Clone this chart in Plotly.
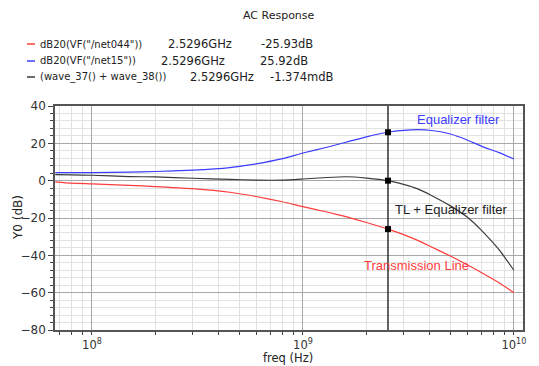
import plotly.graph_objects as go
import math

freq = [6.7e7, 8e7, 1e8, 1.5e8, 2e8, 3e8, 4.5e8, 6e8, 8e8, 1e9, 1.3e9, 1.6e9, 2e9,
        2.5296e9, 3e9, 3.5e9, 4e9, 5e9, 6e9, 7e9, 8.5e9, 1e10]
tl_db = [-0.6, -1.3, -1.7, -2.5, -3.2, -4.3, -6.2, -8.5, -11.3, -13.9, -16.8, -19.3, -22.4,
         -25.93, -28.9, -32.0, -35.1, -40.4, -45.0, -49.2, -54.7, -60.0]
eq_db = [4.3, 4.3, 4.3, 4.6, 4.9, 5.6, 7.0, 9.0, 11.8, 14.8, 17.9, 20.6, 23.5,
         25.92, 26.9, 27.3, 27.0, 25.0, 21.8, 18.5, 15.0, 11.6]
sum_db = [3.2, 3.1, 2.9, 2.2, 2.0, 1.3, 0.7, 0.3, 0.3, 0.9, 1.7, 2.1, 1.4,
          -0.001374, -2.0, -4.4, -7.5, -13.5, -19.5, -26.5, -37.0, -48.0]

cursor_f = 2.5296e9
cursor_vals = [-25.93, 25.92, -0.001374]

legend_names = ['dB20(VF("/net044"))', 'dB20(VF("/net15"))', '(wave_37() + wave_38())']
legend_freq = ['2.5296GHz', '2.5296GHz', '2.5296GHz']
legend_vals = ['-25.93dB', '25.92dB', '-1.374mdB']

RED = '#ff3c3c'
BLUE = '#3c3cff'
DARK = '#3a3a3a'

fig = go.Figure()
fig.add_trace(go.Scatter(x=freq, y=tl_db, mode='lines', line=dict(color=RED, width=1.2, shape='spline', smoothing=0.5)))
fig.add_trace(go.Scatter(x=freq, y=eq_db, mode='lines', line=dict(color=BLUE, width=1.2, shape='spline', smoothing=0.5)))
fig.add_trace(go.Scatter(x=freq, y=sum_db, mode='lines', line=dict(color=DARK, width=1.2, shape='spline', smoothing=0.5)))
fig.add_trace(go.Scatter(x=[cursor_f, cursor_f], y=[-80, 40], mode='lines', line=dict(color='#111111', width=1.3)))
fig.add_trace(go.Scatter(x=[cursor_f] * 3, y=cursor_vals, mode='markers',
                         marker=dict(symbol='square', size=6, color='#000000')))

minor_x = [k * 10 ** n for n in (7, 8, 9) for k in range(2, 10) if 6.6e7 < k * 10 ** n < 1.1e10]

L, R, T, B = 55, 16, 106, 36
W, H = 539, 366
pw, ph = W - L - R, H - T - B

def px(x):
    return (x - L) / pw

def py(y):
    return (H - B - y) / ph

font = 'DejaVu Sans'
fig.update_layout(
    width=W, height=H, margin=dict(l=L, r=R, t=T, b=B),
    paper_bgcolor='white', plot_bgcolor='white', showlegend=False,
    xaxis=dict(type='log', range=[math.log10(6.68e7), 10.043],
               tickmode='array', tickvals=[1e8, 1e9, 1e10],
               ticktext=['10<sup>8</sup>', '10<sup>9</sup>', '10<sup>10</sup>'],
               showgrid=True, gridcolor='#a8a8a8', gridwidth=1,
               ticks='outside', ticklen=3, tickcolor='#444',
               showline=True, mirror=True, linecolor='#555', linewidth=1.5,
               tickfont=dict(family=font, size=11.5, color='#333'),
               minor=dict(tickmode='array', tickvals=minor_x, showgrid=True, gridcolor='#e2e2e2',
                          ticks='outside', ticklen=3, tickcolor='#444'),
               zeroline=False),
    yaxis=dict(range=[-80, 40], tickmode='linear', dtick=20, tick0=0,
               showgrid=True, gridcolor='#a8a8a8', gridwidth=1,
               ticks='outside', ticklen=5, tickcolor='#444',
               showline=True, mirror=True, linecolor='#555', linewidth=1.5,
               tickfont=dict(family=font, size=12, color='#333'),
               minor=dict(dtick=4, showgrid=True, gridcolor='#e2e2e2',
                          ticks='outside', ticklen=3, tickcolor='#444'),
               zeroline=False),
)

def label(text, x, y, size, color='#222', family=font, xanchor='left', **kw):
    return dict(text=text, x=px(x), y=py(y), xref='paper', yref='paper', xanchor=xanchor,
                yanchor='middle', showarrow=False, font=dict(family=family, size=size, color=color), **kw)

ann = []
ann.append(label('AC Response', 279, 15, 11, xanchor='center'))
rows_y = [44, 61, 77]
freq_x = [166, 159, 188]
val_x = [259, 258, 268]
colors = [RED, BLUE, DARK]
shapes = []
for i in range(3):
    ann.append(label(legend_names[i], 38, rows_y[i], 10))
    ann.append(label(legend_freq[i], freq_x[i], rows_y[i], 11.5))
    ann.append(label(legend_vals[i], val_x[i], rows_y[i], 11.5))
    shapes.append(dict(type='line', xref='paper', yref='paper', x0=px(27), x1=px(35),
                       y0=py(rows_y[i]), y1=py(rows_y[i]), line=dict(color=colors[i], width=1.5)))

ann.append(dict(text='Equalizer filter', x=9.739, y=32.6, showarrow=False, xanchor='center', yanchor='middle',
                font=dict(family='Liberation Sans', size=13, color=BLUE)))
ann.append(dict(text='TL + Equalizer filter', x=9.706, y=-15.5, showarrow=False, xanchor='center', yanchor='middle',
                font=dict(family='Liberation Sans', size=13, color='#222')))
ann.append(dict(text='Transmission Line', x=9.54, y=-45.4, showarrow=False, xanchor='center', yanchor='middle',
                font=dict(family='Liberation Sans', size=13, color=RED)))
ann.append(label('Y0 (dB)', 18, 218, 12, xanchor='center', textangle=-90))
ann.append(label('freq (Hz)', 288, 358, 11.5, xanchor='center'))
fig.update_layout(annotations=ann, shapes=shapes)

fig.write_html('out.html')
